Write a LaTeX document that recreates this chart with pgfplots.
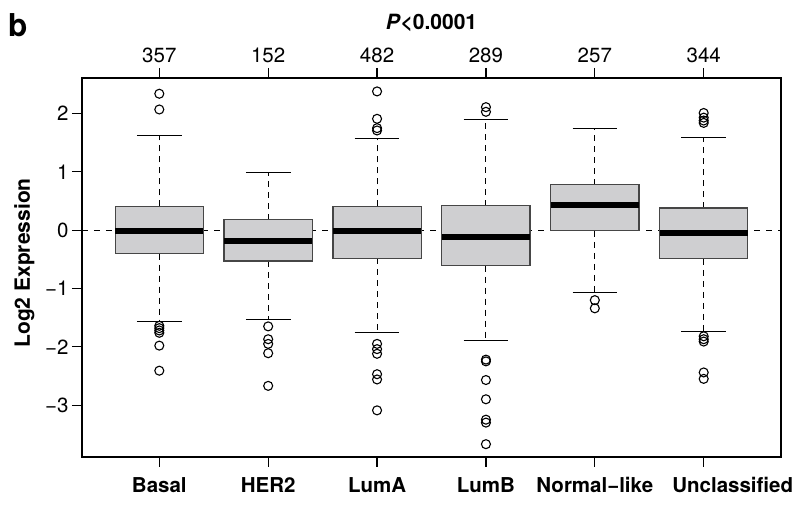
\documentclass[border=0pt]{standalone}
\usepackage{fontspec}
\setmainfont{TeX Gyre Heros}
\usepackage{pgfplots}
\pgfplotsset{compat=1.18}
\usepgfplotslibrary{statistics}
\definecolor{boxfill}{RGB}{207,207,209}
\definecolor{boxborder}{RGB}{70,70,70}
\pgfplotsset{
  mybox/.style={
    black, mark=o, mark size=4.5pt,
    every mark/.append style={line width=1.1pt, black, fill=none},
    boxplot/draw direction=y,
    boxplot/box extend=0.81,
    boxplot/whisker extend=0.41,
    boxplot/every box/.style={draw=boxborder, fill=boxfill, line width=1.3pt},
    boxplot/every median/.style={line width=6pt, black},
    /pgfplots/boxplot/draw/lower whisker/.code={%
      \draw[dash pattern=on 6pt off 5pt, line width=1.1pt, black]
        (boxplot box cs:\pgfplotsboxplotvalue{lower quartile},0.5) --
        (boxplot box cs:\pgfplotsboxplotvalue{lower whisker},0.5);
      \draw[line width=1.3pt, black]
        (boxplot whisker cs:\pgfplotsboxplotvalue{lower whisker},0) --
        (boxplot whisker cs:\pgfplotsboxplotvalue{lower whisker},1);
    },
    /pgfplots/boxplot/draw/upper whisker/.code={%
      \draw[dash pattern=on 6pt off 5pt, line width=1.1pt, black]
        (boxplot box cs:\pgfplotsboxplotvalue{upper quartile},0.5) --
        (boxplot box cs:\pgfplotsboxplotvalue{upper whisker},0.5);
      \draw[line width=1.3pt, black]
        (boxplot whisker cs:\pgfplotsboxplotvalue{upper whisker},0) --
        (boxplot whisker cs:\pgfplotsboxplotvalue{upper whisker},1);
    },
  },
  commonaxis/.style={
    at={(82pt,51pt)}, anchor=south west, scale only axis,
    width=699pt, height=379pt,
    xmin=0.29, xmax=6.71, ymin=-3.89, ymax=2.61,
    tick align=outside, major tick length=10pt,
    every tick/.style={line width=1.2pt, black},
    axis line style={line width=1.2pt, black},
    xtick={1,2,3,4,5,6},
  },
}
\begin{document}
\begin{tikzpicture}
\useasboundingbox (0,0) rectangle (801pt,508pt);
\begin{axis}[commonaxis,
  xtick pos=bottom, ytick pos=left,
  xticklabels={Basal,HER2,LumA,LumB,Normal−like,\hspace*{58pt}Unclassified},
  xticklabel style={font=\bfseries\fontsize{20.5}{24}\selectfont, yshift=-7pt},
  ytick={-3,-2,-1,0,1,2},
  yticklabels={−3,−2,−1,0,1,2},
  yticklabel style={font=\fontsize{20.5}{24}\selectfont},
  ylabel={Log2 Expression},
  every axis y label/.style={at={(axis description cs:-0.0823,0.512)}, rotate=90, anchor=center, font=\bfseries\fontsize{21}{24}\selectfont},
]
\addplot[black, line width=1.1pt, dash pattern=on 6pt off 6pt] coordinates {(0.29,0) (6.71,0)};
% Basal
\addplot[mybox, boxplot prepared={draw position=1, median=-0.02, upper quartile=0.41, lower quartile=-0.40, upper whisker=1.62, lower whisker=-1.57}]
  table[row sep=\\, y index=0] {y\\ 2.34\\ 2.07\\ -1.64\\ -1.68\\ -1.72\\ -1.76\\ -1.98\\ -2.41\\};
% HER2
\addplot[mybox, boxplot prepared={draw position=2, median=-0.18, upper quartile=0.18, lower quartile=-0.53, upper whisker=0.99, lower whisker=-1.53}]
  table[row sep=\\, y index=0] {y\\ -1.65\\ -1.87\\ -1.95\\ -2.11\\ -2.67\\};
% LumA
\addplot[mybox, boxplot prepared={draw position=3, median=-0.01, upper quartile=0.41, lower quartile=-0.48, upper whisker=1.57, lower whisker=-1.76}]
  table[row sep=\\, y index=0] {y\\ 2.38\\ 1.91\\ 1.75\\ 1.71\\ -1.95\\ -2.04\\ -2.12\\ -2.47\\ -2.56\\ -3.09\\};
% LumB
\addplot[mybox, boxplot prepared={draw position=4, median=-0.12, upper quartile=0.42, lower quartile=-0.61, upper whisker=1.90, lower whisker=-1.89}]
  table[row sep=\\, y index=0] {y\\ 2.11\\ 2.03\\ -2.22\\ -2.25\\ -2.57\\ -2.90\\ -3.25\\ -3.30\\ -3.67\\};
% Normal-like
\addplot[mybox, boxplot prepared={draw position=5, median=0.43, upper quartile=0.78, lower quartile=-0.01, upper whisker=1.74, lower whisker=-1.07}]
  table[row sep=\\, y index=0] {y\\ -1.20\\ -1.34\\};
% Unclassified
\addplot[mybox, boxplot prepared={draw position=6, median=-0.05, upper quartile=0.38, lower quartile=-0.49, upper whisker=1.59, lower whisker=-1.74}]
  table[row sep=\\, y index=0] {y\\ 2.01\\ 1.93\\ 1.88\\ 1.84\\ -1.82\\ -1.87\\ -1.91\\ -2.44\\ -2.55\\};
\end{axis}
\begin{axis}[commonaxis,
  axis x line*=top, axis y line=none,
  xticklabels={357,152,482,289,257,344},
  xticklabel style={font=\fontsize{20.5}{24}\selectfont, yshift=2pt},
]
\end{axis}
\node[anchor=base, inner sep=0pt, font=\bfseries\fontsize{21}{24}\selectfont] at (431.5pt,478.7pt) {\textit{P}<0.0001};
\node[anchor=base west, inner sep=0pt, font=\bfseries\fontsize{31.5}{34}\selectfont] at (8pt,471.3pt) {b};
\end{tikzpicture}
\end{document}
